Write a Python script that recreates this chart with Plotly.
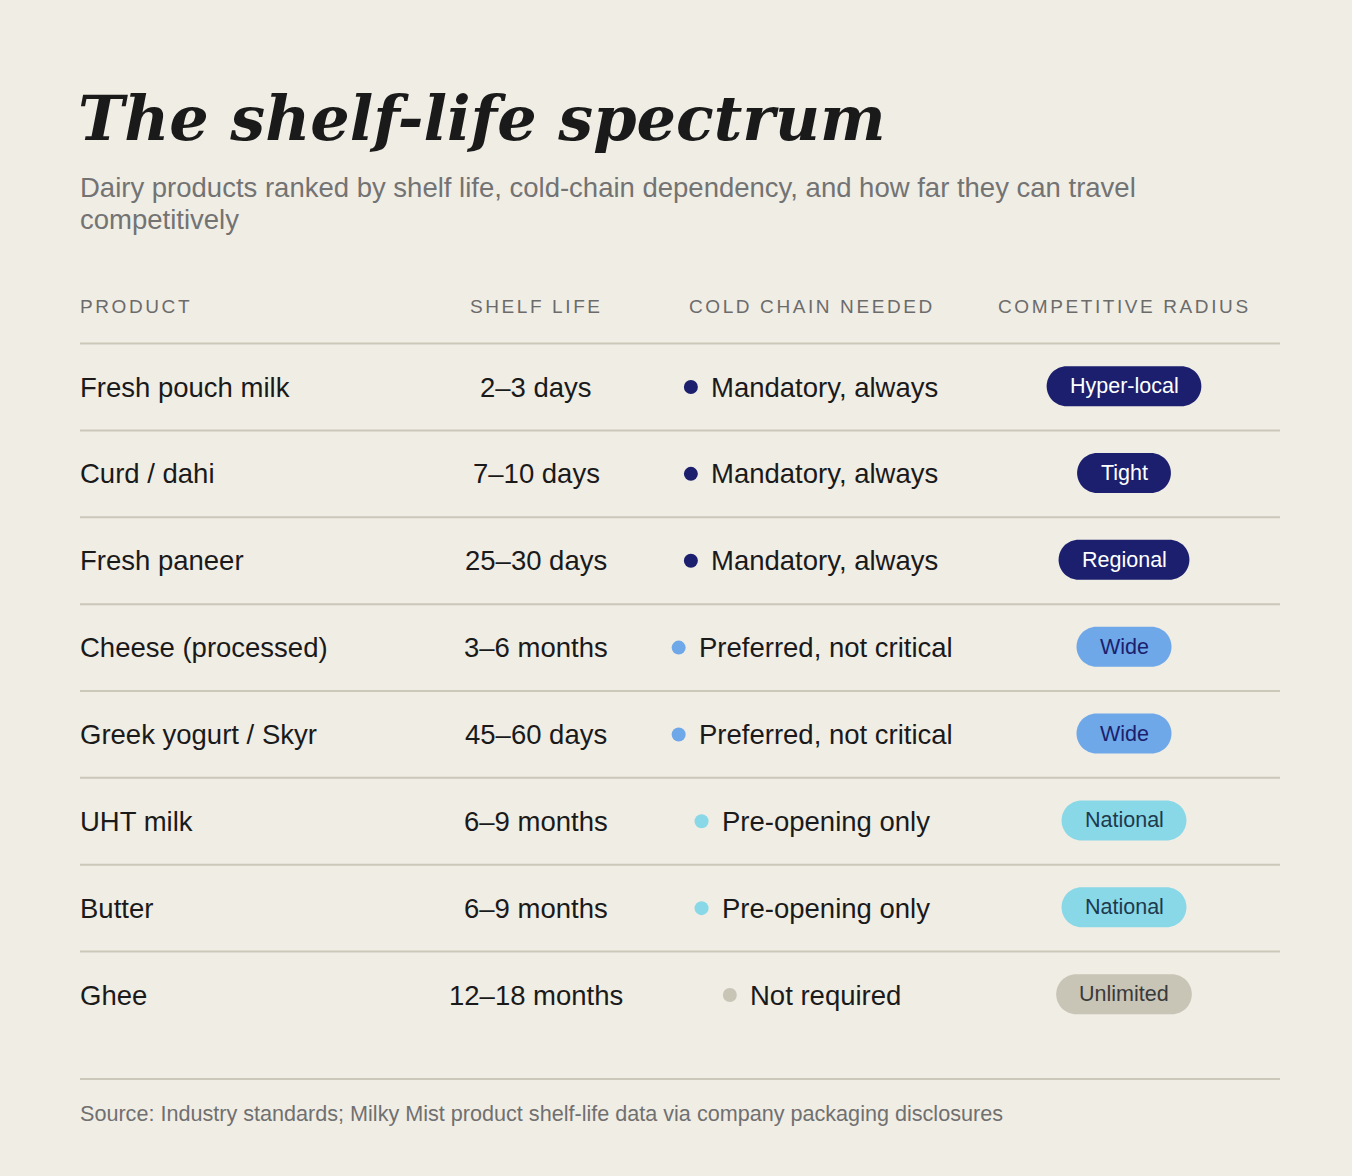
import plotly.graph_objects as go

products = ['Fresh pouch milk', 'Curd / dahi', 'Fresh paneer', 'Cheese (processed)',
            'Greek yogurt / Skyr', 'UHT milk', 'Butter', 'Ghee']
shelf_life = ['2–3 days', '7–10 days', '25–30 days', '3–6 months',
              '45–60 days', '6–9 months', '6–9 months', '12–18 months']
cold_chain = ['Mandatory, always', 'Mandatory, always', 'Mandatory, always',
              'Preferred, not critical', 'Preferred, not critical',
              'Pre-opening only', 'Pre-opening only', 'Not required']
radius = ['Hyper-local', 'Tight', 'Regional', 'Wide', 'Wide',
          'National', 'National', 'Unlimited']
headers = ['PRODUCT', 'SHELF LIFE', 'COLD CHAIN NEEDED', 'COMPETITIVE RADIUS']

W, H = 1352, 1176
BG = '#F0EDE5'
INK = '#1A1A1A'
RULE = '#CBC7B9'
SANS = 'Liberation Sans, Arial, Helvetica, sans-serif'

dot_colors = {
    'Mandatory, always': '#1B1F6E',
    'Preferred, not critical': '#6EA8E8',
    'Pre-opening only': '#88D8E8',
    'Not required': '#C8C4B6',
}
pill_style = {  # fill, text
    'Hyper-local': ('#1B1F6E', '#FFFFFF'),
    'Tight': ('#1B1F6E', '#FFFFFF'),
    'Regional': ('#1B1F6E', '#FFFFFF'),
    'Wide': ('#6EA8E8', '#1B1F6E'),
    'National': ('#88D8E8', '#1E3A4C'),
    'Unlimited': ('#C8C4B6', '#3A3A3A'),
}

# rough Arial advance widths (per 1000 em) for sizing the pills / centring groups
AW = dict(zip('abcdefghijklmnopqrstuvwxyz',
              [556, 556, 500, 556, 556, 278, 556, 556, 222, 222, 500, 222, 833,
               556, 556, 556, 556, 333, 500, 278, 556, 500, 722, 500, 500, 500]))
AW.update(zip('ABCDEFGHIJKLMNOPQRSTUVWXYZ',
              [667, 667, 722, 722, 667, 611, 778, 722, 278, 500, 667, 556, 833,
               722, 778, 667, 778, 722, 667, 611, 722, 667, 944, 667, 667, 611]))
AW.update({' ': 278, ',': 278, '-': 333, '.': 278, '/': 278, '(': 333, ')': 333, '–': 556})


def text_w(s, size):
    return sum(AW.get(c, 556) for c in s) / 1000 * size


ROW0, STEP = 387, 86.86   # pixel centre of first row, row pitch


def py(px):
    return (px - ROW0) / STEP


def ppaper(px):
    return 1 - px / H


X_PROD, X_SHELF, X_COLD, X_RAD, X_END = 80, 536, 812, 1124, 1280
X_TXT = X_PROD - 2   # annotation boxes pad their text by a couple of px
ROW_SIZE = 27.5
PILL_SIZE = 21.5
rows = list(range(len(products)))

fig = go.Figure()

# cold-chain dots, placed so dot + label are centred in the column
dot_x = [X_COLD - (13 + text_w(c, ROW_SIZE)) / 2 for c in cold_chain]
fig.add_trace(go.Scatter(
    x=dot_x, y=rows, mode='markers',
    marker=dict(size=14, color=[dot_colors[c] for c in cold_chain], line=dict(width=0)),
    hoverinfo='skip', showlegend=False))

ann = []
shapes = []

# rules: top of table, between rows, and above the source line
for yline in [r - 0.5 for r in rows]:
    shapes.append(dict(type='line', xref='x', yref='y', x0=X_PROD, x1=X_END,
                       y0=yline, y1=yline, line=dict(color=RULE, width=2)))
shapes.append(dict(type='line', xref='x', yref='y', x0=X_PROD, x1=X_END,
                   y0=py(1079), y1=py(1079), line=dict(color=RULE, width=2)))

k = 0.5523
hh = 20 / STEP
for i, r in enumerate(radius):
    fill, tcol = pill_style[r]
    pw = text_w(r, PILL_SIZE) + 46
    x0, x1 = X_RAD - pw / 2, X_RAD + pw / 2
    rx = 20
    yc = i - 0.01
    path = (f'M {x0+rx},{yc-hh} L {x1-rx},{yc-hh} '
            f'C {x1-rx+k*rx},{yc-hh} {x1},{yc-k*hh} {x1},{yc} '
            f'C {x1},{yc+k*hh} {x1-rx+k*rx},{yc+hh} {x1-rx},{yc+hh} '
            f'L {x0+rx},{yc+hh} '
            f'C {x0+rx-k*rx},{yc+hh} {x0},{yc+k*hh} {x0},{yc} '
            f'C {x0},{yc-k*hh} {x0+rx-k*rx},{yc-hh} {x0+rx},{yc-hh} Z')
    shapes.append(dict(type='path', xref='x', yref='y', path=path,
                       fillcolor=fill, line=dict(width=0), layer='below'))
    ann.append(dict(x=X_RAD, y=yc, xref='x', yref='y', text=r, showarrow=False,
                    xanchor='center', yanchor='middle',
                    font=dict(family=SANS, size=PILL_SIZE, color=tcol)))

for i in rows:
    ann.append(dict(x=X_TXT, y=i, xref='x', yref='y', text=products[i], showarrow=False,
                    xanchor='left', yanchor='middle',
                    font=dict(family=SANS, size=ROW_SIZE, color=INK)))
    ann.append(dict(x=X_SHELF, y=i, xref='x', yref='y', text=shelf_life[i], showarrow=False,
                    xanchor='center', yanchor='middle',
                    font=dict(family=SANS, size=ROW_SIZE, color=INK)))
    ann.append(dict(x=dot_x[i] + 18, y=i, xref='x', yref='y', text=cold_chain[i],
                    showarrow=False, xanchor='left', yanchor='middle',
                    font=dict(family=SANS, size=ROW_SIZE, color=INK)))

# column headers
hdr_x = [X_TXT, X_SHELF, X_COLD, X_RAD]
hdr_anchor = ['left', 'center', 'center', 'center']
for h, hx, xa in zip(headers, hdr_x, hdr_anchor):
    ann.append(dict(x=hx, y=py(306), xref='x', yref='y', showarrow=False,
                    text=f'<span style="letter-spacing:2.6px">{h}</span>',
                    xanchor=xa, yanchor='middle',
                    font=dict(family=SANS, size=19, color='#6B6B6B')))

# title, subtitle, source
ann.append(dict(x=(X_PROD - 4) / W, y=ppaper(119), xref='paper', yref='paper', showarrow=False,
                text='The shelf-life spectrum', xanchor='left', yanchor='middle',
                font=dict(family='DejaVu Serif, Georgia, serif', size=62,
                          color=INK, weight='bold', style='italic')))
sub_lines = ['Dairy products ranked by shelf life, cold-chain dependency, and how far they can travel',
             'competitively']
for line, ypx in zip(sub_lines, [187, 219]):
    ann.append(dict(x=X_TXT / W, y=ppaper(ypx), xref='paper', yref='paper', showarrow=False,
                    text=line, xanchor='left', yanchor='middle',
                    font=dict(family=SANS, size=27.5, color='#737373')))
ann.append(dict(x=X_TXT / W, y=ppaper(1113), xref='paper', yref='paper', showarrow=False,
                text='Source: Industry standards; Milky Mist product shelf-life data via company packaging disclosures',
                xanchor='left', yanchor='middle',
                font=dict(family=SANS, size=21.6, color='#707070')))

fig.update_layout(
    width=W, height=H,
    margin=dict(l=0, r=0, t=0, b=0),
    paper_bgcolor=BG, plot_bgcolor=BG,
    xaxis=dict(range=[0, W], visible=False, fixedrange=True),
    yaxis=dict(range=[py(H), py(0)], visible=False, fixedrange=True),
    shapes=shapes, annotations=ann,
    showlegend=False,
)

fig.write_html('out.html', config={'displayModeBar': False},
               post_script="document.body.style.margin='0';document.body.style.background='#F0EDE5';")
